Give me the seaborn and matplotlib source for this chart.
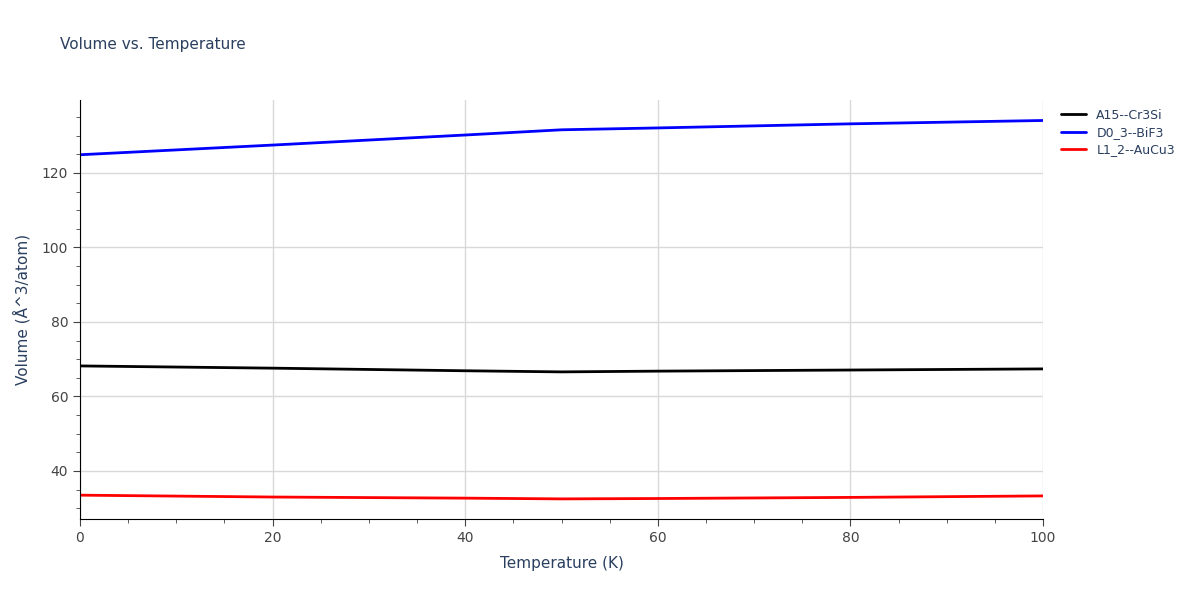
import matplotlib
matplotlib.use("Agg")
import matplotlib.pyplot as plt
from matplotlib.ticker import MultipleLocator
import seaborn as sns
import pandas as pd

temperature = [0, 20, 40, 50, 60, 80, 100]
vol_a15 = [68.2, 67.6, 66.9, 66.6, 66.8, 67.1, 67.4]
vol_d03 = [124.9, 127.5, 130.2, 131.6, 132.1, 133.2, 134.1]
vol_l12 = [33.5, 33.0, 32.7, 32.5, 32.6, 32.9, 33.3]
names = ["A15--Cr3Si", "D0_3--BiF3", "L1_2--AuCu3"]
colors = ["black", "blue", "red"]

df = pd.concat([
    pd.DataFrame({"T": temperature, "V": v, "structure": n})
    for v, n in zip([vol_a15, vol_d03, vol_l12], names)
])

sns.set_style("white")
fig = plt.figure(figsize=(12, 6), dpi=100)
ax = fig.add_axes([80 / 1200, 81 / 600, 963 / 1200, 419 / 600])
sns.lineplot(data=df, x="T", y="V", hue="structure", palette=colors, linewidth=2, ax=ax)

ax.set_xlim(0, 100)
ax.set_ylim(27.1, 139.6)
ax.xaxis.set_major_locator(MultipleLocator(20))
ax.xaxis.set_minor_locator(MultipleLocator(5))
ax.yaxis.set_major_locator(MultipleLocator(20))
ax.yaxis.set_minor_locator(MultipleLocator(5))
ax.grid(True, which="major", color="#d9d9d9", linewidth=1)
for s in ["top", "right"]:
    ax.spines[s].set_visible(False)
for s in ["left", "bottom"]:
    ax.spines[s].set_color("black")
ax.tick_params(which="both", direction="out", colors="#444444", labelsize=10)
ax.tick_params(which="major", length=5, left=True, bottom=True)
ax.tick_params(which="minor", length=3, left=True, bottom=True)
ax.set_xlabel("Temperature (K)", fontsize=11, color="#2a3f5f", labelpad=8)
ax.set_ylabel("Volume (Å^3/atom)", fontsize=11, color="#2a3f5f", labelpad=8)
fig.text(60 / 1200, 1 - 45 / 600, "Volume vs. Temperature", fontsize=11, color="#2a3f5f", va="center")
leg = ax.legend(loc="upper left", bbox_to_anchor=(1.01, 1.0), frameon=False, fontsize=9,
                title=None, handlelength=2, borderaxespad=0.3, labelspacing=0.35)
for t in leg.get_texts():
    t.set_color("#2a3f5f")
fig.savefig("out.png", dpi=100)
